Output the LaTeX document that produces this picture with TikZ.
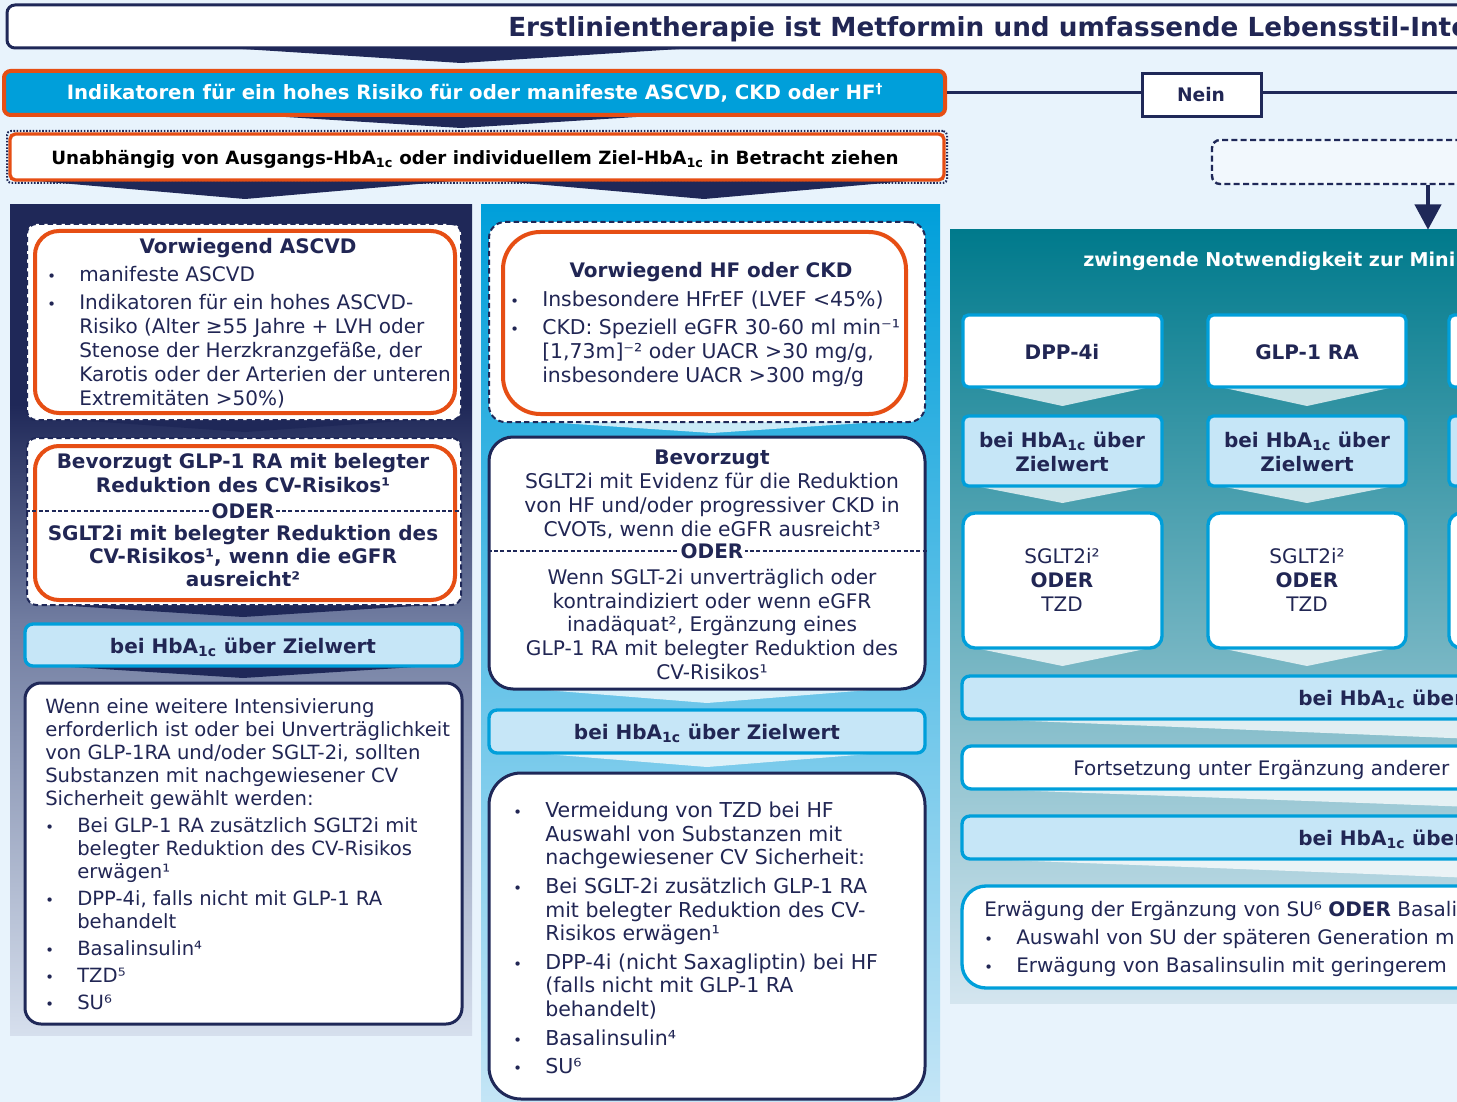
\documentclass[tikz,border=0pt]{standalone}
\usepackage{fontspec}
\setmainfont{DejaVu Sans}
\usetikzlibrary{arrows.meta}

\definecolor{navy}{RGB}{31,40,88}
\definecolor{ink}{RGB}{33,38,84}
\definecolor{cyanb}{RGB}{0,159,218}
\definecolor{orng}{RGB}{230,78,20}
\definecolor{pale}{RGB}{198,230,247}
\definecolor{bgc}{RGB}{232,243,252}
\definecolor{tealc}{RGB}{0,122,140}
\definecolor{lpmid}{RGB}{112,124,160}
\definecolor{lpbot}{RGB}{214,223,237}
\definecolor{mpbot}{RGB}{196,229,246}
\definecolor{rpbot}{RGB}{212,229,239}

\pgfdeclareverticalshading{leftpanel}{100bp}{color(0bp)=(lpbot); color(25bp)=(lpbot); color(50bp)=(lpmid); color(63bp)=(navy); color(100bp)=(navy)}
\pgfdeclareverticalshading{midpanel}{100bp}{color(0bp)=(mpbot); color(25bp)=(mpbot); color(75bp)=(cyanb); color(100bp)=(cyanb)}
\pgfdeclareverticalshading{rightpanel}{100bp}{color(0bp)=(rpbot); color(25bp)=(rpbot); color(75bp)=(tealc); color(100bp)=(tealc)}

% box given by its corners (pixel grid, y downwards): \bx[style](name){x1}{y1}{x2}{y2}
\def\bx[#1](#2)#3#4#5#6{\node[inner sep=0pt, #1, minimum width={(#5-#3)*0.75pt}, minimum height={(#6-#4)*0.75pt}] (#2) at ({(#3+#5)/2},{(#4+#6)/2}) {};}
% flat chevron under a box: style, left x, right x, top y, tip y
\newcommand\chev[5]{\fill[#1] (#2,#4) -- (#3,#4) -- ({(#2+#3)/2},#5) -- cycle;}
% bullets
\newcommand\bul{\makebox[24pt][l]{\fontsize{11}{11}\selectfont •}}
\newcommand\ind{\hspace*{24pt}}

\tikzset{
  dashbox/.style={draw=navy, fill=white, line width=1.5pt, dash pattern=on 4pt off 2.5pt, rounded corners=#1},
  dashbox/.default=7pt,
  orangebox/.style={draw=orng, line width=3pt, rounded corners=#1},
  orangebox/.default=18pt,
  navybox/.style={draw=navy, fill=white, line width=2.25pt, rounded corners=#1},
  navybox/.default=10pt,
  hbabox/.style={draw=cyanb, fill=pale, line width=2.5pt, rounded corners=6pt},
  cyanbox/.style={draw=cyanb, fill=#1, line width=2.5pt, rounded corners=4pt},
  divider/.style={draw=navy, line width=1.2pt, dash pattern=on 3pt off 1.8pt},
  txt/.style={inner sep=0pt, text=ink, font=\fontsize{15}{18}\selectfont},
  btxt/.style={inner sep=0pt, text=ink, font=\bfseries\fontsize{15}{18}\selectfont},
  navychev/.style={navy},
  whitechev/.style={white, opacity=0.75},
  link/.style={navy, line width=2.25pt},
}

\begin{document}
\begin{tikzpicture}[x=0.75pt, y=-0.75pt]
\useasboundingbox (0,0) rectangle (1457,1102);
\clip (0,0) rectangle (1457,1102);
\fill[bgc] (0,0) rectangle (1457,1102);

% ---------- column panels ----------
\bx[shade, shading=leftpanel](lpanel){10}{205}{472}{1035}
\bx[shade, shading=midpanel](mpanel){481}{205}{940}{1102}
\bx[shade, shading=rightpanel](rpanel){950}{230}{1500}{1003}

% ---------- top flow ----------
\chev{navychev}{196}{726}{46}{63}
\bx[navybox=6pt](head){7}{5}{1520}{48}
\node[anchor=base west, inner sep=0pt, text=ink, font=\bfseries\fontsize{19.7}{23}\selectfont] (headtxt) at (508,36.8) {Erstlinientherapie ist Metformin und umfassende Lebensstil-Inte};

\chev{navychev}{238}{684}{114}{128}
\bx[fill=cyanb, draw=orng, line width=3pt, rounded corners=5pt](indik){4}{71}{945}{115}
\node[anchor=base, inner sep=0pt, text=white, font=\bfseries\fontsize{14.8}{17}\selectfont] (indiktxt) at (475,100) {Indikatoren für ein hohes Risiko für oder manifeste ASCVD, CKD oder HF\textsuperscript{†}};

\bx[navybox=0pt](nein){1142}{74}{1261}{117}
\node[btxt, anchor=base, font=\bfseries\fontsize{14}{17}\selectfont] (neintxt) at (1201,102) {Nein};
\coordinate (lineY) at (0,93);
\coordinate (outR) at (1470,93);
\draw[link] (indik.east |- lineY) -- (nein.west |- lineY);
\draw[link] (nein.east |- lineY) -- (outR);

\chev{navychev}{14}{476}{179}{199}
\chev{navychev}{478}{930}{179}{199}
\bx[fill=white, draw=orng, line width=2.5pt, rounded corners=4pt](indep){10}{134}{944}{180}
\bx[draw=navy, line width=1.5pt, dash pattern=on 1.2pt off 1.2pt, rounded corners=3pt](indepdots){7}{131}{947}{183}
\node[anchor=base, inner sep=0pt, text=black, font=\bfseries\fontsize{13.7}{16}\selectfont] (indeptxt) at (475,165) {Unabhängig von Ausgangs-HbA\textsubscript{1c} oder individuellem Ziel-HbA\textsubscript{1c} in Betracht ziehen};

\bx[fill=white, fill opacity=0.45, draw=navy, draw opacity=1, line width=1.8pt, dash pattern=on 4.5pt off 2.5pt, rounded corners=6pt](pending){1212}{140}{1600}{184}
\coordinate (arrx) at (1428,0);
\draw[navy, line width=3.3pt, -{Triangle[length=19pt, width=19.5pt]}] (pending.south -| arrx) -- (arrx |- rpanel.north);

% ---------- left column: mainly ASCVD ----------
\chev{navychev}{60}{430}{419}{432}
\bx[dashbox](ascvd){27}{224}{461}{420}
\bx[orangebox=18pt](ascvdo){35}{231}{455}{413}
\node[btxt, anchor=base] (ascvdtitle) at (248,253) {Vorwiegend ASCVD};
\node[txt, anchor=north west, align=left] (ascvdlist) at (47,266) {\bul manifeste ASCVD\\[3pt]
\bul Indikatoren für ein hohes ASCVD-\\
\ind Risiko (Alter ≥55 Jahre + LVH oder\\
\ind Stenose der  Herzkranzgefäße, der\\
\ind Karotis oder der Arterien der unteren\\
\ind Extremitäten >50\%)};

\chev{navychev}{40}{446}{604}{617}
\bx[dashbox](glpbox){27}{438}{461}{605}
\bx[orangebox=18pt](glpo){35}{446}{455}{600}
\node[btxt, anchor=north, align=center] (glptxt) at (243,453.4) {Bevorzugt GLP-1 RA mit belegter\\Reduktion des CV-Risikos¹};
\draw[divider] (glpbox.west |- 0,511) -- (glpbox.east |- 0,511);
\node[btxt, anchor=base, fill=white, inner sep=1.5pt] (oderL) at (243,518) {ODER};
\node[btxt, anchor=north, align=center, font=\bfseries\fontsize{15}{17.25}\selectfont] (sglttxt) at (243,525.4) {SGLT2i mit belegter Reduktion des\\CV-Risikos¹, wenn die eGFR\\ausreicht²};

\chev{navychev}{40}{446}{665}{678}
\bx[hbabox](hbaL){25}{624}{462}{666}
\node[btxt, anchor=base] (hbaLtxt) at (243,653) {bei HbA\textsubscript{1c} über Zielwert};

\bx[navybox=12pt](furtherL){25}{683}{462}{1024}
\node[txt, anchor=north west, align=left, font=\fontsize{14.7}{17.25}\selectfont] (furtherLtxt) at (45,698) {Wenn eine weitere Intensivierung\\
erforderlich ist oder bei Unverträglichkeit\\
von GLP-1RA und/oder SGLT-2i, sollten\\
Substanzen mit nachgewiesener CV\\
Sicherheit gewählt werden:\\[3pt]
\bul Bei GLP-1 RA zusätzlich SGLT2i mit\\
\ind belegter Reduktion des CV-Risikos\\
\ind erwägen¹\\[3pt]
\bul DPP-4i, falls nicht mit GLP-1 RA\\
\ind behandelt\\[3pt]
\bul Basalinsulin⁴\\[3pt]
\bul TZD⁵\\[3pt]
\bul SU⁶};

% ---------- middle column: mainly HF or CKD ----------
\chev{whitechev}{530}{894}{421}{433}
\bx[dashbox=12pt](hfckd){489}{222}{925}{422}
\bx[orangebox=28pt](hfckdo){503}{232}{906}{414}
\node[btxt, anchor=base] (hfckdtitle) at (711,277) {Vorwiegend HF oder CKD};
\node[txt, anchor=north west, align=left, font=\fontsize{15.3}{18}\selectfont] (hfckdlist) at (510,290.4) {\bul Insbesondere HFrEF (LVEF <45\%)\\[3pt]
\bul CKD: Speziell eGFR 30-60 ml min⁻¹\\
\ind [1,73m]⁻² oder UACR >30 mg/g,\\
\ind insbesondere UACR >300 mg/g};

\chev{whitechev}{520}{894}{688}{703}
\bx[navybox=18pt](prefM){489}{437}{925}{689}
\node[btxt, anchor=base] (prefMtitle) at (712,464) {Bevorzugt};
\node[txt, anchor=north, align=center, font=\fontsize{15.2}{18}\selectfont] (prefMtxt) at (712,472.4) {SGLT2i mit Evidenz für die Reduktion\\von HF und/oder progressiver CKD in\\CVOTs, wenn die eGFR ausreicht³};
\draw[divider] (prefM.west |- 0,551) -- (prefM.east |- 0,551);
\node[btxt, anchor=base, fill=white, inner sep=1.5pt] (oderM) at (712,558) {ODER};
\node[txt, anchor=north, align=center, font=\fontsize{15.1}{17.8}\selectfont] (altMtxt) at (712,568.8) {Wenn SGLT-2i unverträglich oder\\kontraindiziert oder wenn eGFR\\inadäquat², Ergänzung eines\\GLP-1 RA mit belegter Reduktion des\\CV-Risikos¹};

\chev{whitechev}{520}{894}{752}{767}
\bx[hbabox](hbaM){489}{710}{925}{753}
\node[btxt, anchor=base] (hbaMtxt) at (707,739) {bei HbA\textsubscript{1c} über Zielwert};

\bx[navybox=24pt](furtherM){489}{773}{925}{1099}
\node[txt, anchor=north west, align=left, font=\fontsize{15.4}{17.6}\selectfont] (furtherMtxt) at (513,802) {\bul Vermeidung von TZD bei HF\\
\ind Auswahl von Substanzen mit\\
\ind nachgewiesener CV Sicherheit:\\[4pt]
\bul Bei SGLT-2i zusätzlich GLP-1 RA\\
\ind mit belegter Reduktion des CV-\\
\ind Risikos erwägen¹\\[4pt]
\bul DPP-4i (nicht Saxagliptin) bei HF\\
\ind (falls nicht mit GLP-1 RA\\
\ind behandelt)\\[4pt]
\bul Basalinsulin⁴\\[4pt]
\bul SU⁶};

% ---------- right column ----------
\node[anchor=base west, inner sep=0pt, text=white, font=\bfseries\fontsize{14.3}{17}\selectfont] (rtitle) at (1083,266.5) {zwingende Notwendigkeit zur Mini};

% three drug columns
\chev{whitechev}{975}{1150}{387}{406}
\chev{whitechev}{975}{1150}{486}{503}
\chev{whitechev}{975}{1150}{648}{666}
\chev{whitechev}{1220}{1394}{387}{406}
\chev{whitechev}{1220}{1394}{486}{503}
\chev{whitechev}{1220}{1394}{648}{666}

\bx[cyanbox=white](dpp){963}{315}{1162}{387}
\bx[cyanbox=pale](dpphba){963}{416}{1162}{486}
\bx[cyanbox=white, rounded corners=9pt](dppnext){963}{513}{1162}{648}
\bx[cyanbox=white](glp1){1208}{315}{1406}{387}
\bx[cyanbox=pale](glp1hba){1208}{416}{1406}{486}
\bx[cyanbox=white, rounded corners=9pt](glp1next){1208}{513}{1406}{648}
\bx[cyanbox=white](thirdA){1449}{315}{1650}{387}
\bx[cyanbox=pale](thirdB){1449}{416}{1650}{486}
\bx[cyanbox=white, rounded corners=9pt](thirdC){1449}{513}{1650}{648}

\node[btxt, anchor=base] (dpptxt) at (1062,359) {DPP-4i};
\node[btxt, anchor=base] (glp1txt) at (1307,359) {GLP-1 RA};
\node[btxt, anchor=north, align=center] (dpphbatxt) at (1062,431.4) {bei HbA\textsubscript{1c} über\\Zielwert};
\node[btxt, anchor=north, align=center] (glp1hbatxt) at (1307,431.4) {bei HbA\textsubscript{1c} über\\Zielwert};
\node[txt, anchor=north, align=center] (dppnexttxt) at (1062,548.4) {SGLT2i²\\\textbf{ODER}\\TZD};
\node[txt, anchor=north, align=center] (glp1nexttxt) at (1307,548.4) {SGLT2i²\\\textbf{ODER}\\TZD};

% full width steps
\fill[whitechev] (980,719) -- (1500,719) -- (1500,740) -- cycle;
\fill[whitechev] (980,789) -- (1500,789) -- (1500,808) -- cycle;
\fill[whitechev] (980,859) -- (1500,859) -- (1500,879) -- cycle;
\bx[hbabox](hbaR1){962}{676}{1520}{719}
\node[btxt, anchor=base west] (hbaR1txt) at (1298,705) {bei HbA\textsubscript{1c} über};
\bx[cyanbox=white, rounded corners=7pt](contR){962}{746}{1520}{789}
\node[txt, anchor=base west] (contRtxt) at (1073,775) {Fortsetzung unter Ergänzung anderer};
\bx[hbabox](hbaR2){962}{816}{1520}{859}
\node[btxt, anchor=base west] (hbaR2txt) at (1298,845) {bei HbA\textsubscript{1c} über};

\bx[cyanbox=white, rounded corners=18pt](finalR){962}{886}{1520}{988}
\node[txt, anchor=north west, align=left] (finalRtxt) at (984,900.8) {Erwägung der Ergänzung von SU⁶ \textbf{ODER} Basali\\[3.5pt]
\bul Auswahl von SU der späteren Generation m\\[3pt]
\bul Erwägung von Basalinsulin mit geringerem};
\end{tikzpicture}
\end{document}
